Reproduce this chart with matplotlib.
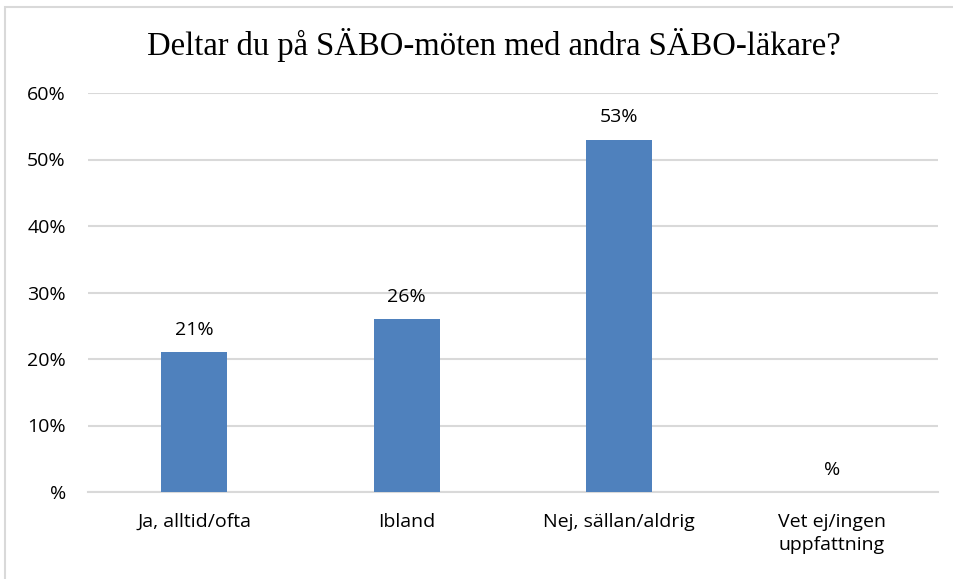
import matplotlib.pyplot as plt
from matplotlib.patches import Rectangle

categories = ["Ja, alltid/ofta", "Ibland", "Nej, sällan/aldrig", "Vet ej/ingen\nuppfattning"]
values = [21, 26, 53, 0]
bar_labels = ["21%", "26%", "53%", "%"]
yticks = [0, 10, 20, 30, 40, 50, 60]
ytick_labels = ["%", "10%", "20%", "30%", "40%", "50%", "60%"]

W, H = 954, 579
fig = plt.figure(figsize=(W / 100, H / 100), dpi=100)
ax = fig.add_axes([88 / W, 1 - 492 / H, (938 - 88) / W, (492 - 93) / H])

x = range(len(categories))
ax.bar(x, values, width=0.31, color="#4F81BD", zorder=3)
for xi, v, lab in zip(x, values, bar_labels):
    ax.text(xi, v + 2.0, lab, ha="center", va="bottom", fontsize=14,
            family="Open Sans", color="#000000")

ax.set_xlim(-0.5, 3.5)
ax.set_ylim(0, 60)
ax.set_yticks(yticks)
ax.set_yticklabels(ytick_labels, family="Open Sans", fontsize=14)
ax.set_xticks(list(x))
ax.set_xticklabels(categories, family="Open Sans", fontsize=14, linespacing=1.35)
ax.tick_params(axis="y", length=0, pad=16)
ax.tick_params(axis="x", length=0, pad=15)
ax.grid(axis="y", color="#D9D9D9", linewidth=1.5, zorder=0)
for s in ["top", "right", "left"]:
    ax.spines[s].set_visible(False)
ax.spines["bottom"].set_color("#D9D9D9")
ax.spines["bottom"].set_linewidth(1.5)

fig.text(494 / W, 1 - 45 / H, "Deltar du på SÄBO-möten med andra SÄBO-läkare?",
         ha="center", va="center", fontsize=23.5, family="Liberation Serif")

fig.patches.append(Rectangle((5 / W, -0.1), 1.2, 1 - 7 / H + 0.1, transform=fig.transFigure,
                             fill=False, edgecolor="#D9D9D9", linewidth=1.5))

fig.savefig("out.png", dpi=100)
